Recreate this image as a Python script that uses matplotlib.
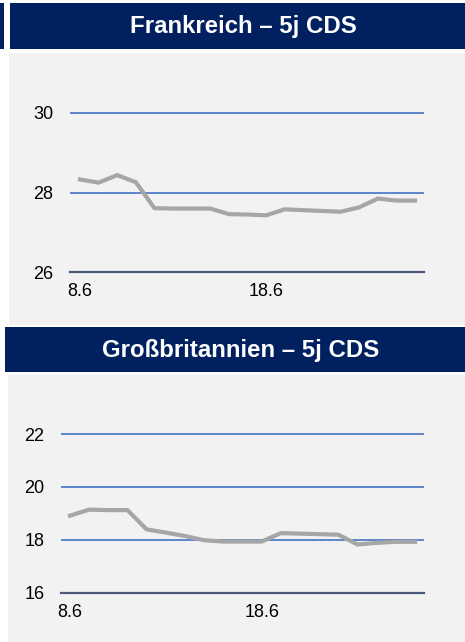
import matplotlib
matplotlib.use("Agg")
import matplotlib.pyplot as plt
from matplotlib.patches import Rectangle

plt.rcParams['font.family'] = ['Liberation Sans', 'DejaVu Sans']

# daily values 8.6 - 26.6
days = list(range(8, 27))
day_labels = [f"{d}.6" for d in days]
shown_labels = ["8.6", "18.6"]

fr_cds = [28.33, 28.25, 28.44, 28.26, 27.61, 27.60, 27.60, 27.60, 27.46, 27.45,
          27.43, 27.58, 27.56, 27.54, 27.52, 27.63, 27.85, 27.80, 27.80]
uk_cds = [18.91, 19.14, 19.12, 19.12, 18.39, 18.27, 18.14, 17.98, 17.93, 17.93,
          17.93, 18.25, 18.23, 18.21, 18.19, 17.82, 17.88, 17.92, 17.92]

fr_ticks = [26, 28, 30]
uk_ticks = [16, 18, 20, 22]

W, H = 465, 642
NAVY = '#002060'
PANEL = '#F2F2F2'
GRID = '#4472C4'
AXIS = '#4A5A78'
LINE = '#A6A6A6'

fig = plt.figure(figsize=(W / 100, H / 100), dpi=100)
fig.patch.set_facecolor('white')


def box(x0, y0, x1, y1):
    # pixel box (top-left origin) -> figure fraction rect
    return [x0 / W, 1 - y1 / H, (x1 - x0) / W, (y1 - y0) / H]


def rect(x0, y0, x1, y1, color):
    l, b, w, h = box(x0, y0, x1, y1)
    fig.add_artist(Rectangle((l, b), w, h, transform=fig.transFigure,
                             facecolor=color, edgecolor='none', zorder=0))


# background blocks
rect(0, 3, 4, 49, NAVY)
rect(10, 3, 465, 49, NAVY)
rect(9, 53, 465, 325, PANEL)
rect(5, 327, 465, 372, NAVY)
rect(8, 375, 465, 642, PANEL)

fig.text(243 / W, 1 - 27 / H, "Frankreich – 5j CDS", color='white',
         fontsize=17.3, fontweight='bold', ha='center', va='center')
fig.text(241 / W, 1 - 351 / H, "Großbritannien – 5j CDS", color='white',
         fontsize=17.3, fontweight='bold', ha='center', va='center')


def panel(pix, values, yticks, ylim, xlim):
    ax = fig.add_axes(box(*pix))
    ax.set_facecolor('none')
    idx = list(range(len(values)))
    ax.plot(idx, values, color=LINE, lw=3, zorder=3, solid_joinstyle='miter')
    ax.set_xlim(*xlim)
    ax.set_ylim(*ylim)
    ax.set_yticks(yticks)
    ax.set_yticklabels([str(t) for t in yticks])
    pos = [day_labels.index(s) for s in shown_labels]
    ax.set_xticks(pos)
    ax.set_xticklabels(shown_labels)
    for t in yticks[1:]:
        ax.axhline(t, color=GRID, lw=1.2, zorder=1)
    for s in ['top', 'right', 'left']:
        ax.spines[s].set_visible(False)
    ax.spines['bottom'].set_color(AXIS)
    ax.spines['bottom'].set_linewidth(1.6)
    ax.tick_params(axis='both', length=0, labelsize=13, colors='black')
    ax.tick_params(axis='y', pad=12)
    ax.tick_params(axis='x', pad=8)
    return ax


# France: x 70..424 px, 26 at y=272.3, 30 at y=113
px_fr = (415 - 80) / 18
panel((70, 93, 424, 272.3), fr_cds, fr_ticks, (26, 30.5),
      (-10 / px_fr, 18 + 9 / px_fr))

# UK: x 61..424 px, 16 at y=592.5, 22 at y=434
px_uk = (415 - 70) / 18
panel((61, 413, 424, 592.5), uk_cds, uk_ticks, (16, 22.8),
      (-9 / px_uk, 18 + 9 / px_uk))

fig.savefig('out.png', dpi=100)
